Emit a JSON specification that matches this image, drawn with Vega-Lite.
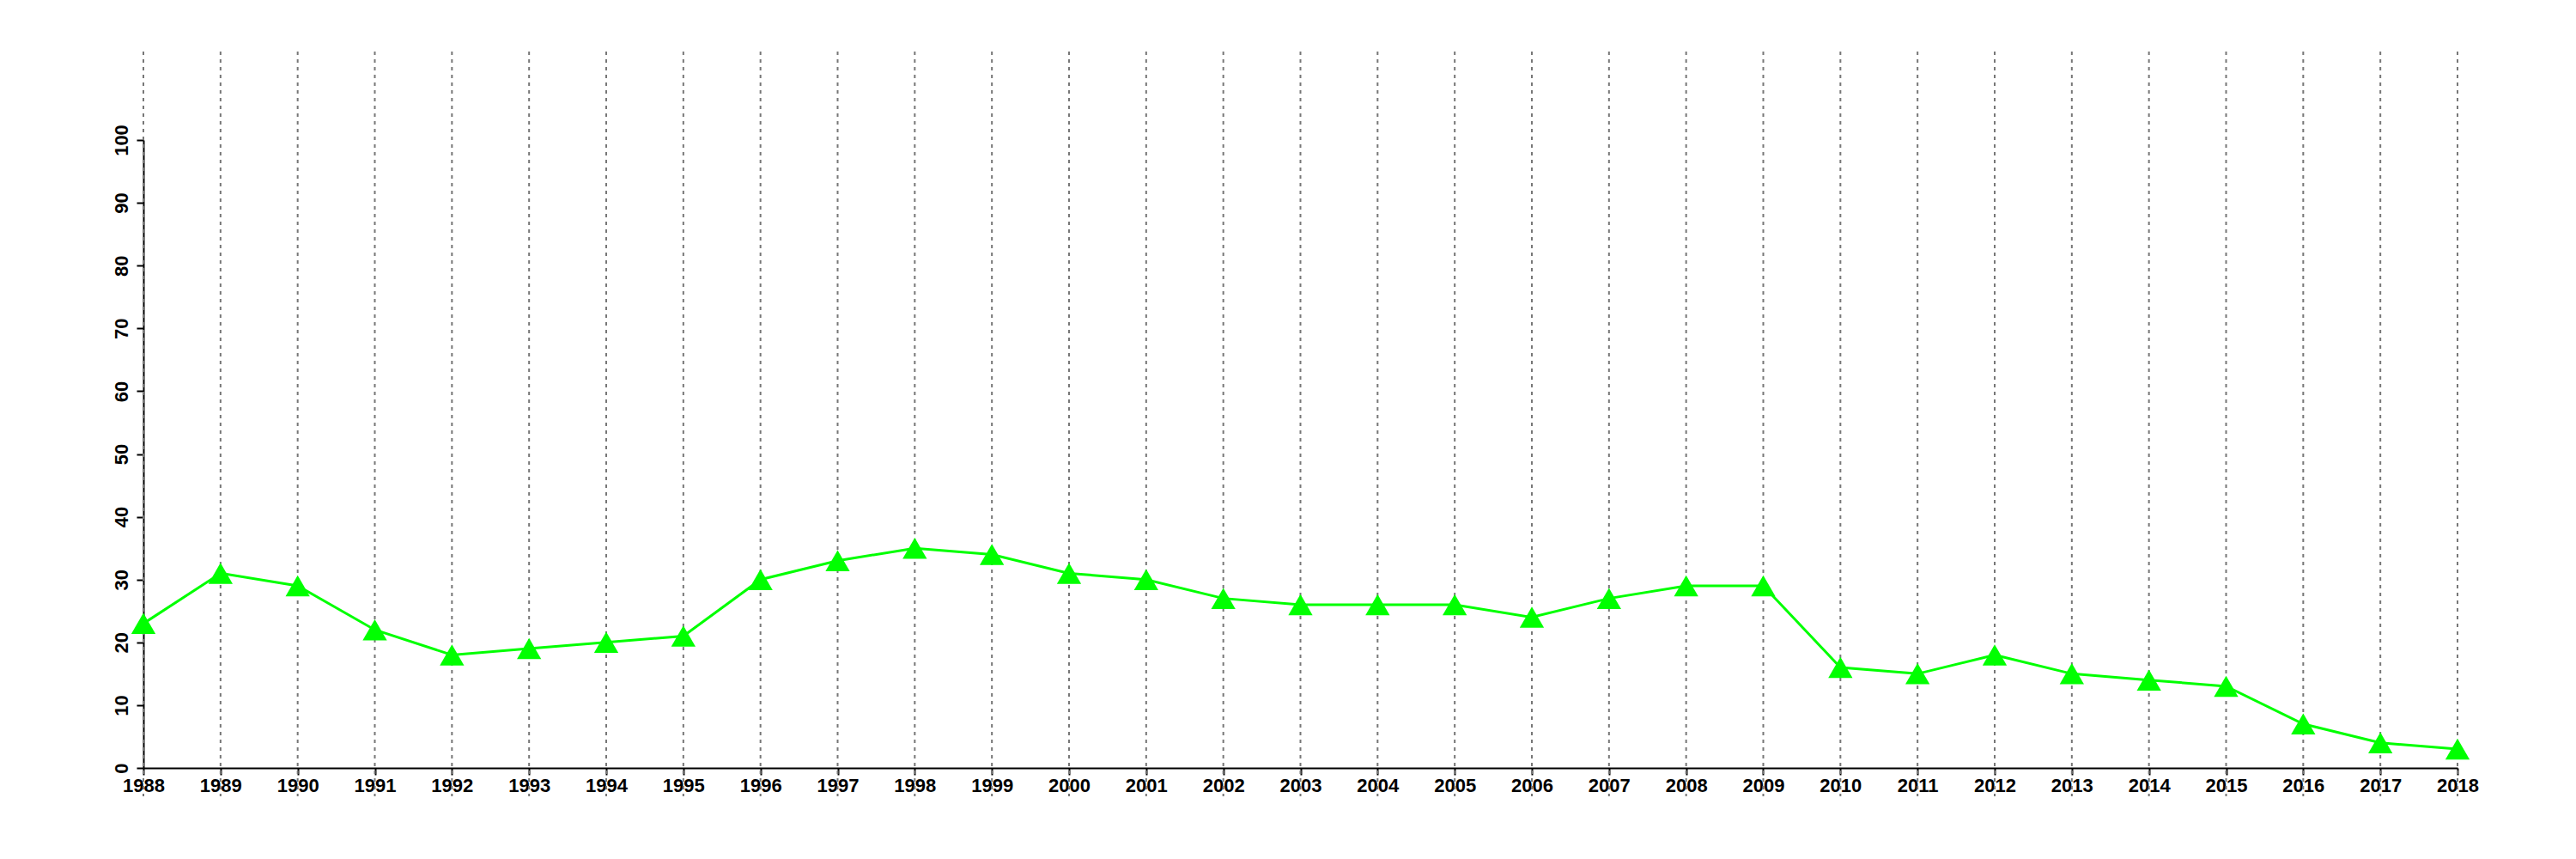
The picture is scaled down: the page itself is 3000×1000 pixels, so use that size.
{
  "$schema": "https://vega.github.io/schema/vega-lite/v6.json",
  "autosize": "none",
  "width": 2695,
  "height": 731,
  "padding": {"left": 167, "top": 163, "right": 138, "bottom": 106},
  "background": "white",
  "config": {"view": {"stroke": null}},
  "data": {"values": [
    {"year": 1988, "value": 23}, {"year": 1989, "value": 31}, {"year": 1990, "value": 29},
    {"year": 1991, "value": 22}, {"year": 1992, "value": 18}, {"year": 1993, "value": 19},
    {"year": 1994, "value": 20}, {"year": 1995, "value": 21}, {"year": 1996, "value": 30},
    {"year": 1997, "value": 33}, {"year": 1998, "value": 35}, {"year": 1999, "value": 34},
    {"year": 2000, "value": 31}, {"year": 2001, "value": 30}, {"year": 2002, "value": 27},
    {"year": 2003, "value": 26}, {"year": 2004, "value": 26}, {"year": 2005, "value": 26},
    {"year": 2006, "value": 24}, {"year": 2007, "value": 27}, {"year": 2008, "value": 29},
    {"year": 2009, "value": 29}, {"year": 2010, "value": 16}, {"year": 2011, "value": 15},
    {"year": 2012, "value": 18}, {"year": 2013, "value": 15}, {"year": 2014, "value": 14},
    {"year": 2015, "value": 13}, {"year": 2016, "value": 7}, {"year": 2017, "value": 4},
    {"year": 2018, "value": 3}
  ]},
  "encoding": {
    "x": {"field": "year", "type": "quantitative",
      "scale": {"domain": [1988, 2018], "nice": false, "zero": false},
      "axis": {"values": [1988,1989,1990,1991,1992,1993,1994,1995,1996,1997,1998,1999,2000,2001,2002,2003,2004,2005,2006,2007,2008,2009,2010,2011,2012,2013,2014,2015,2016,2017,2018],
        "format": "d", "title": null, "grid": false, "domainColor": "black", "domainWidth": 2,
        "tickColor": "black", "tickWidth": 2, "tickSize": 8, "labelFont": "Liberation Sans",
        "labelFontWeight": "bold", "labelFontSize": 22, "labelColor": "black", "labelPadding": 2,
        "labelFlush": false, "labelOverlap": false}}
  },
  "layer": [
    {
      "mark": {"type": "rule", "color": "#777777", "strokeWidth": 2, "strokeDash": [4, 5]},
      "encoding": {"y": {"datum": 114.1, "type": "quantitative"}, "y2": {"datum": -4.5}}
    },
    {
      "mark": {"type": "line", "color": "#00FF00", "strokeWidth": 3},
      "encoding": {
        "y": {"field": "value", "type": "quantitative",
          "scale": {"domain": [0, 100], "nice": false, "zero": false},
          "axis": {"values": [0,10,20,30,40,50,60,70,80,90,100], "title": null, "grid": false,
            "domainColor": "black", "domainWidth": 2, "tickColor": "black", "tickWidth": 2, "tickSize": 8,
            "labelFont": "Liberation Sans", "labelFontWeight": "bold", "labelFontSize": 22,
            "labelColor": "black", "labelAngle": 270, "labelAlign": "center", "labelBaseline": "bottom",
            "labelPadding": 6, "labelFlush": false, "labelOverlap": false}}
      }
    },
    {
      "mark": {"type": "point", "shape": "triangle-up", "filled": true, "color": "#00FF00", "size": 800, "opacity": 1},
      "encoding": {"y": {"field": "value", "type": "quantitative"}}
    }
  ]
}
